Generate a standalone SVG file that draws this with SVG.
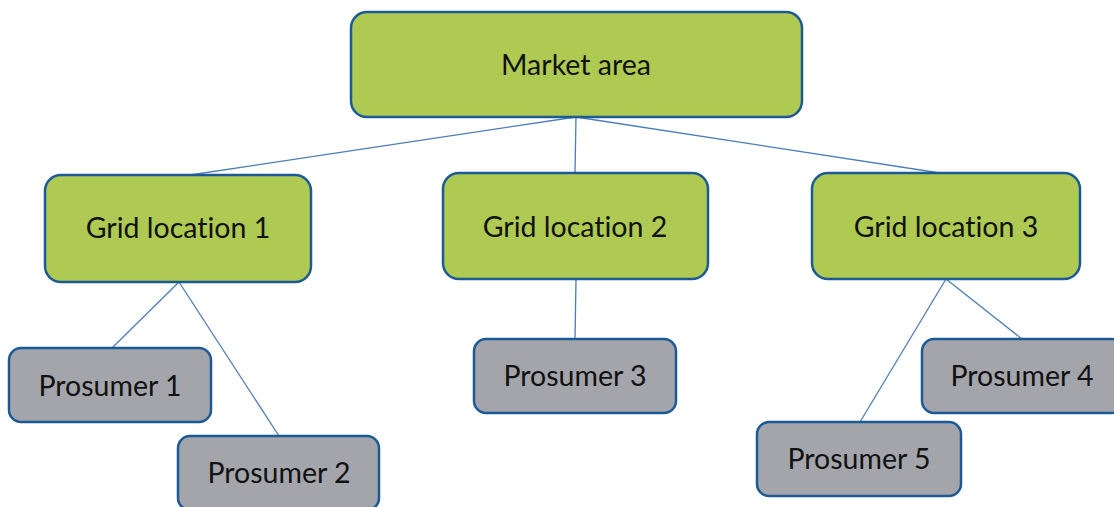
<svg xmlns="http://www.w3.org/2000/svg" width="1114" height="507" viewBox="0 0 1114 507">
<style>
.g{fill:#afca52;stroke:#1c5a96;stroke-width:2.5}
.p{fill:#a3a5ab;stroke:#1c5a96;stroke-width:2.5}
.t{font-family:Lato,"Open Sans",sans-serif;font-size:28.5px;fill:#111;text-anchor:middle;font-variant-ligatures:none}
.c line{stroke:#4a7eb5;stroke-width:1.3}
</style>
<rect width="1114" height="507" fill="#fff"/>
<g class="c" id="connectors">
<line x1="576" y1="117" x2="190" y2="175"/>
<line x1="576" y1="117" x2="575" y2="173"/>
<line x1="576" y1="117" x2="940" y2="173"/>
<line x1="179" y1="282" x2="112" y2="348"/>
<line x1="179" y1="282" x2="279" y2="436"/>
<line x1="576" y1="279" x2="575" y2="339"/>
<line x1="946" y1="279" x2="1022" y2="339"/>
<line x1="946" y1="279" x2="860" y2="422"/>
</g>
<g id="market"><rect class="g" x="351" y="12" width="451" height="105" rx="16"/><text class="t" x="576" y="75">Market area</text></g>
<g id="grid1"><rect class="g" x="45" y="175" width="266" height="107" rx="16"/><text class="t" x="178" y="238">Grid location 1</text></g>
<g id="grid2"><rect class="g" x="443" y="173" width="265" height="106" rx="16"/><text class="t" x="575" y="237">Grid location 2</text></g>
<g id="grid3"><rect class="g" x="812" y="173" width="268" height="106" rx="16"/><text class="t" x="946" y="237">Grid location 3</text></g>
<g id="prosumer1"><rect class="p" x="9" y="348" width="202" height="74" rx="12"/><text class="t" x="110" y="396">Prosumer 1</text></g>
<g id="prosumer2"><rect class="p" x="178" y="436" width="201" height="74" rx="12"/><text class="t" x="279" y="483">Prosumer 2</text></g>
<g id="prosumer3"><rect class="p" x="474" y="339" width="202" height="74" rx="12"/><text class="t" x="575" y="386">Prosumer 3</text></g>
<g id="prosumer4"><rect class="p" x="922" y="339" width="202" height="74" rx="12"/><text class="t" x="1022" y="386">Prosumer 4</text></g>
<g id="prosumer5"><rect class="p" x="757" y="422" width="204" height="74" rx="12"/><text class="t" x="859" y="469">Prosumer 5</text></g>
</svg>
